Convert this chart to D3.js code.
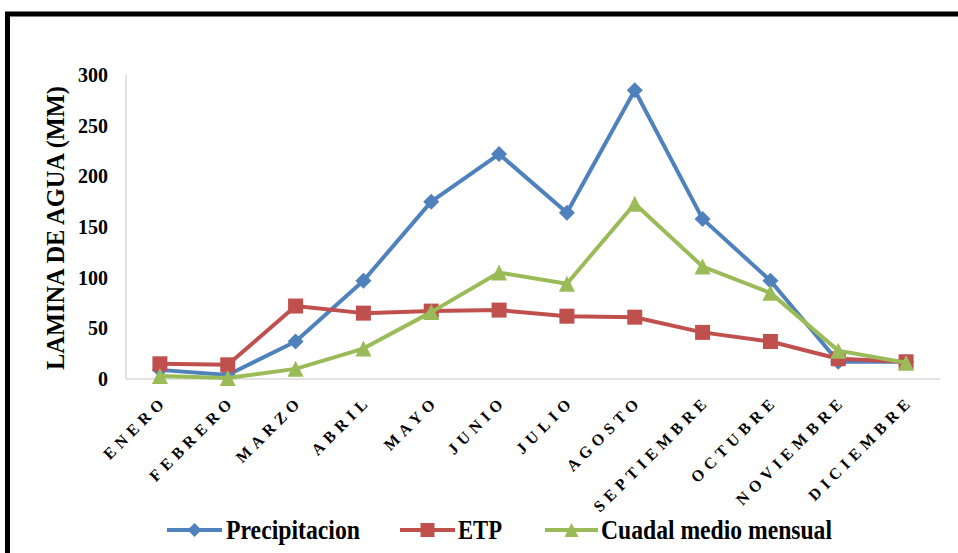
<!DOCTYPE html>
<html>
<head>
<meta charset="utf-8">
<script src="https://cdn.jsdelivr.net/npm/d3@7"></script>
<style>
  html, body { margin: 0; padding: 0; background: #ffffff; }
  svg { display: block; }
</style>
</head>
<body>
<svg id="chart" width="958" height="553"></svg>
<script>
// Monthly water balance: rainfall, potential evapotranspiration and mean monthly flow
const months = ["ENERO", "FEBRERO", "MARZO", "ABRIL", "MAYO", "JUNIO", "JULIO",
                "AGOSTO", "SEPTIEMBRE", "OCTUBRE", "NOVIEMBRE", "DICIEMBRE"];
const precipitacion = [9, 4, 37, 97, 175, 222, 164, 285, 158, 97, 17, 17];
const etp = [15, 14, 72, 65, 67, 68, 62, 61, 46, 37, 20, 17];
const caudal = [3, 1, 10, 30, 66, 105, 94, 173, 111, 85, 28, 16];
const yTicks = [0, 50, 100, 150, 200, 250, 300];
const seriesNames = ["Precipitacion", "ETP", "Cuadal medio mensual"];

const FONT = "'Liberation Serif', 'Times New Roman', Times, serif";

const series = [
  { name: seriesNames[0], values: precipitacion, color: "#4F81BD", marker: "diamond" },
  { name: seriesNames[1], values: etp, color: "#C0504D", marker: "square" },
  { name: seriesNames[2], values: caudal, color: "#9BBB59", marker: "triangle" }
];

const svg = d3.select("#chart");

// outer frame (top and left edges fall inside the view)
svg.append("rect")
  .attr("x", 7.5).attr("y", 14)
  .attr("width", 1000).attr("height", 600)
  .attr("fill", "none").attr("stroke", "#000").attr("stroke-width", 5);

const plot = { left: 126, right: 940, top: 75, bottom: 379 };

const x = d3.scalePoint().domain(months).range([plot.left, plot.right]).padding(0.5);
const y = d3.scaleLinear().domain([0, 300]).range([plot.bottom, plot.top]);

// value axis
svg.append("line")
  .attr("x1", plot.left).attr("x2", plot.left)
  .attr("y1", plot.top).attr("y2", plot.bottom)
  .attr("stroke", "#d9d9d9").attr("stroke-width", 1.5);

const yAxis = svg.append("g")
  .attr("transform", `translate(${plot.left},0)`)
  .call(d3.axisLeft(y).tickValues(yTicks).tickSize(0).tickPadding(18));
yAxis.select(".domain").remove();
yAxis.selectAll("text")
  .style("font-family", FONT)
  .style("font-weight", "bold")
  .style("font-size", "20px")
  .attr("fill", "#000");

// category axis with slanted, letter-spaced month names
const xAxis = svg.append("g")
  .attr("transform", `translate(0,${plot.bottom})`)
  .call(d3.axisBottom(x).tickSize(0).tickPadding(0));
xAxis.select(".domain")
  .attr("d", `M${plot.left},0H${plot.right}`)
  .attr("stroke", "#d9d9d9").attr("stroke-width", 1.5);
xAxis.selectAll("text")
  .attr("dy", null).attr("y", 0)
  .attr("text-anchor", "end")
  .attr("transform", "translate(8,23) rotate(-45)")
  .style("font-family", FONT)
  .style("font-weight", "bold")
  .style("font-size", "16px")
  .style("letter-spacing", "5.2px")
  .attr("fill", "#000");

// y axis title
svg.append("text")
  .attr("transform", `translate(64,${(plot.top + plot.bottom) / 2 + 1}) rotate(-90)`)
  .attr("text-anchor", "middle")
  .attr("textLength", 284)
  .attr("lengthAdjust", "spacingAndGlyphs")
  .style("font-family", FONT)
  .style("font-weight", "bold")
  .style("font-size", "26px")
  .attr("fill", "#000")
  .text("LAMINA DE AGUA (MM)");

// marker shapes
function markerPath(type, s) {
  if (type === "diamond") return `M0,${-s}L${s},0L0,${s}L${-s},0Z`;
  if (type === "square") return `M${-s},${-s}H${s}V${s}H${-s}Z`;
  return `M0,${-s}L${s},${s}H${-s}Z`;
}
const markerSize = { diamond: 8, square: 7.5, triangle: 8 };

const line = d3.line().x((d, i) => x(months[i])).y(d => y(d));

series.forEach(s => {
  const g = svg.append("g");
  g.append("path")
    .datum(s.values)
    .attr("d", line)
    .attr("fill", "none")
    .attr("stroke", s.color)
    .attr("stroke-width", 4)
    .attr("stroke-linejoin", "round");
  g.selectAll("path.m")
    .data(s.values)
    .join("path")
    .attr("class", "m")
    .attr("transform", (d, i) => `translate(${x(months[i])},${y(d)})`)
    .attr("d", markerPath(s.marker, markerSize[s.marker]))
    .attr("fill", s.color);
});

// legend
const legendItems = [
  { s: series[0], x0: 167, x1: 222, tx: 226, w: 134 },
  { s: series[1], x0: 400, x1: 455, tx: 458, w: 44 },
  { s: series[2], x0: 545, x1: 598, tx: 601, w: 231 }
];
const ly = 530;
legendItems.forEach(it => {
  const g = svg.append("g");
  g.append("line")
    .attr("x1", it.x0).attr("x2", it.x1).attr("y1", ly).attr("y2", ly)
    .attr("stroke", it.s.color).attr("stroke-width", 4);
  g.append("path")
    .attr("transform", `translate(${(it.x0 + it.x1) / 2},${ly})`)
    .attr("d", markerPath(it.s.marker, 7))
    .attr("fill", it.s.color);
  g.append("text")
    .attr("x", it.tx).attr("y", ly + 9)
    .attr("textLength", it.w)
    .attr("lengthAdjust", "spacingAndGlyphs")
    .style("font-family", FONT)
    .style("font-weight", "bold")
    .style("font-size", "27px")
    .attr("fill", "#000")
    .text(it.s.name);
});
</script>
</body>
</html>
